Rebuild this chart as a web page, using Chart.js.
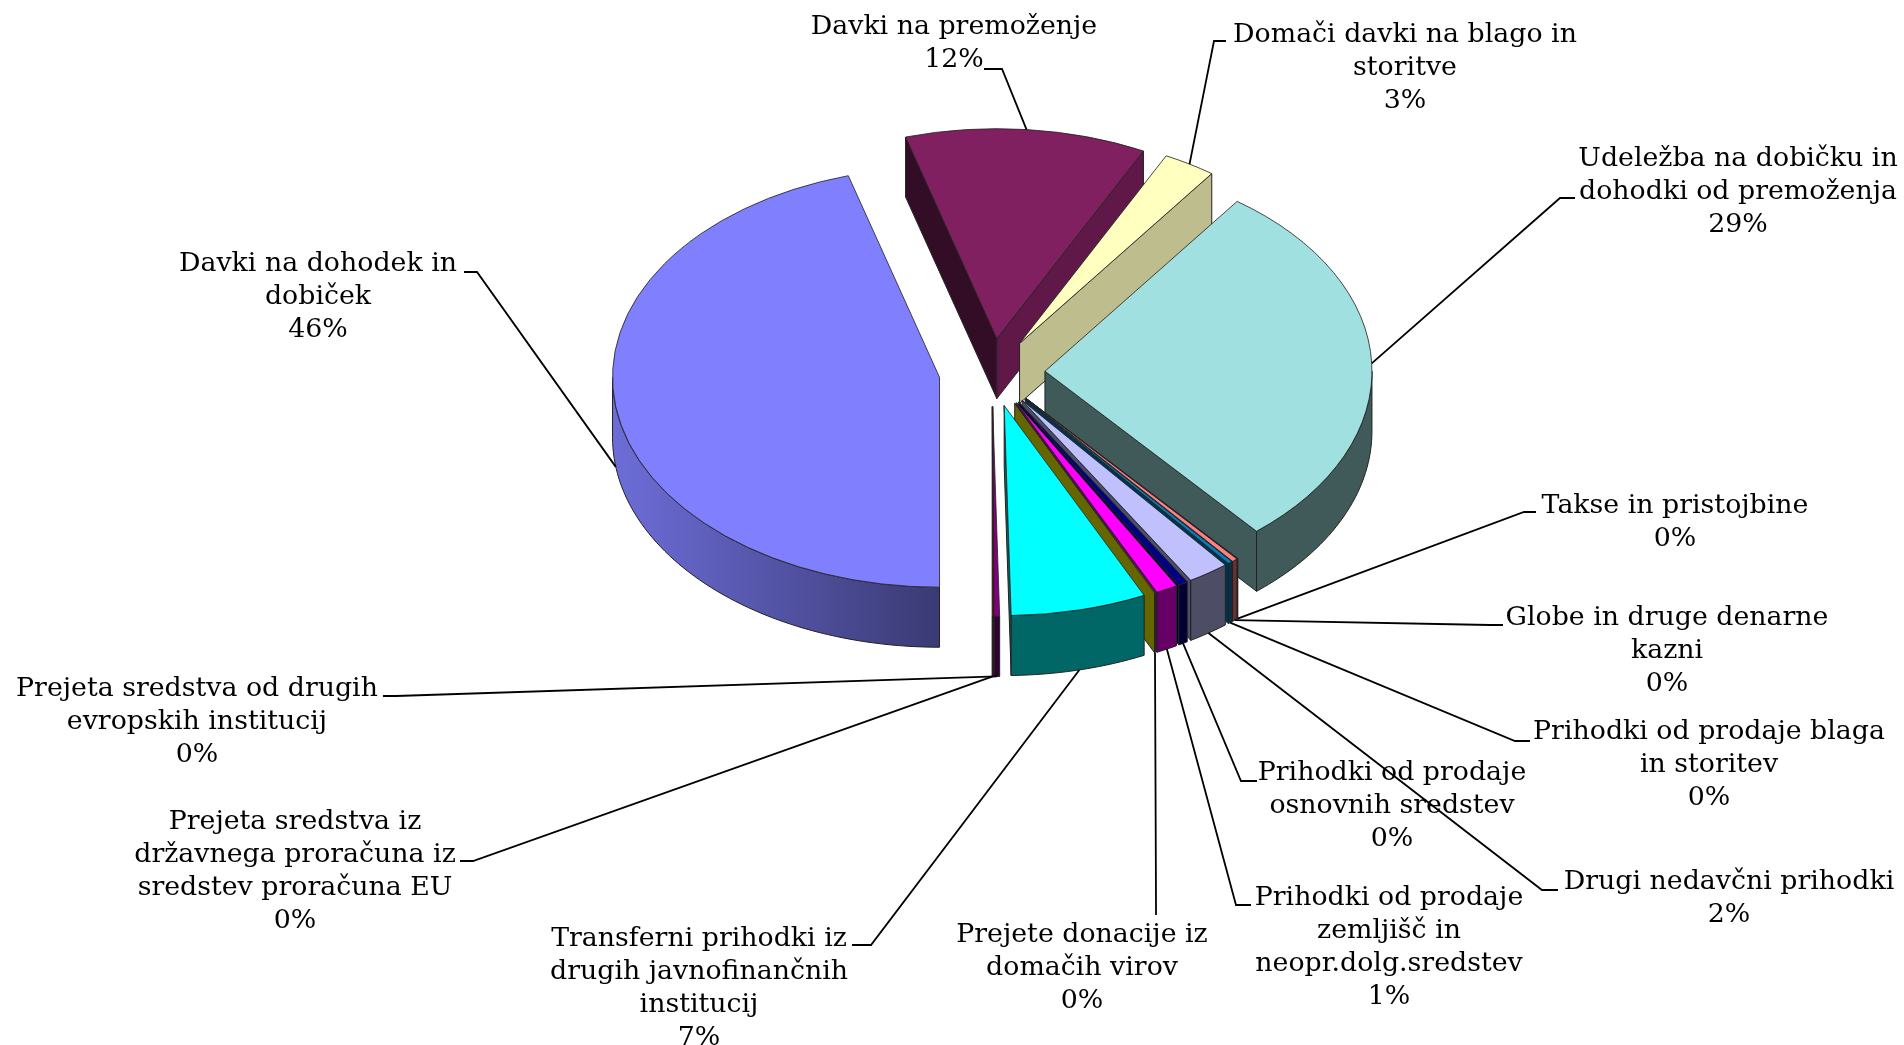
<!DOCTYPE html>
<html><head><meta charset="utf-8">
<style>html,body{margin:0;padding:0;background:#fff}canvas{display:block}</style>
<script src="https://cdn.jsdelivr.net/npm/chart.js@4/dist/chart.umd.min.js"></script>
</head><body><div style="width:1904px;height:1045px"><canvas id="c" width="1904" height="1045"></canvas></div>
<script>
const categories = [
  ['Davki na dohodek in','dobiček'],
  ['Davki na premoženje'],
  ['Domači davki na blago in','storitve'],
  ['Udeležba na dobičku in','dohodki od premoženja'],
  ['Takse in pristojbine'],
  ['Globe in druge denarne','kazni'],
  ['Prihodki od prodaje blaga','in storitev'],
  ['Drugi nedavčni prihodki'],
  ['Prihodki od prodaje','osnovnih sredstev'],
  ['Prihodki od prodaje','zemljišč in','neopr.dolg.sredstev'],
  ['Prejete donacije iz','domačih virov'],
  ['Transferni prihodki iz','drugih javnofinančnih','institucij'],
  ['Prejeta sredstva od drugih','evropskih institucij'],
  ['Prejeta sredstva iz','državnega proračuna iz','sredstev proračuna EU']
];
const shares = [45.5,11.9,2.6,28.8,0.03,0.28,0.22,2.05,0.47,1.08,0.03,6.7,0.27,0.07];
const sliceColors = ['#8080FF','#802060','#FFFFC0','#A0E0E0','#600080','#FF8080','#0080C0','#C0C0FF','#000080','#FF00FF','#FFFF00','#00FFFF','#800080','#800000'];

// layout of the labels: centre x, first-line y (middle), leader start, leader elbow
const labelLayout = [
  {x:318,y:264,s:[464,272],e:[477,272]},
  {x:954,y:27,s:[984,69],e:[1002,69]},
  {x:1405,y:35,s:[1226,41],e:[1214,41]},
  {x:1738,y:159,s:[1575,198],e:[1560,198]},
  {x:1675,y:506,s:[1536,512],e:[1524,512]},
  {x:1667,y:618,s:[1503,625],e:[1490,625]},
  {x:1709,y:732,s:[1530,741],e:[1515,741]},
  {x:1729,y:882,s:[1558,890],e:[1542,890]},
  {x:1392,y:773,s:[1257,781],e:[1241,781]},
  {x:1389,y:898,s:[1251,905],e:[1236,905]},
  {x:1082,y:935,s:[1156,915],e:[1156,905]},
  {x:699,y:939,s:[852,945],e:[871,945]},
  {x:197,y:689,s:[383,696],e:[396,696]},
  {x:295,y:822,s:[460,861],e:[473,861]}
];
const CX=992, CY=372.5, R=327, EXPLODE=53, TILT=0.642, DEPTH=60, LINE=33;
const FONT='26.8px "DejaVu Serif"';
const drawOrder=[1,2,0,3,4,5,6,7,8,9,10,11,12,13];

function rgba(hex,f){
  const n=parseInt(hex.slice(1),16);
  return `rgb(${Math.round((n>>16&255)*f)},${Math.round((n>>8&255)*f)},${Math.round((n&255)*f)})`;
}
function geom(arc){
  const {startAngle:a0,endAngle:a1,x,y,outerRadius:r}=arc.getProps(['startAngle','endAngle','x','y','outerRadius']);
  const mid=(a0+a1)/2, ax=x+Math.cos(mid)*EXPLODE, ay=y+Math.sin(mid)*EXPLODE*TILT;
  return {a0,a1,mid,ax,ay,r,pt:t=>[ax+Math.cos(t)*r,ay+Math.sin(t)*r*TILT]};
}
function radialWall(ctx,g,t,color){
  const p=g.pt(t);
  ctx.beginPath();ctx.moveTo(g.ax,g.ay);ctx.lineTo(p[0],p[1]);ctx.lineTo(p[0],p[1]+DEPTH);ctx.lineTo(g.ax,g.ay+DEPTH);ctx.closePath();
  ctx.fillStyle=color;ctx.fill();ctx.strokeStyle='#222';ctx.lineWidth=1;ctx.stroke();
}
function outerWall(ctx,g,base){
  let lo=null,hi=null;
  for(const k of [0,2]){ const from=k*Math.PI, to=from+Math.PI;
    const a=Math.max(g.a0,from), b=Math.min(g.a1,to);
    if(b>a){lo=a;hi=b;} }
  if(lo===null) return;
  const steps=Math.max(2,Math.ceil((hi-lo)*40));
  ctx.beginPath();
  for(let i=0;i<=steps;i++){const p=g.pt(lo+(hi-lo)*i/steps); i?ctx.lineTo(p[0],p[1]):ctx.moveTo(p[0],p[1]);}
  for(let i=steps;i>=0;i--){const p=g.pt(lo+(hi-lo)*i/steps); ctx.lineTo(p[0],p[1]+DEPTH);}
  ctx.closePath();
  const l=g.pt(hi), rr=g.pt(lo);
  if(l[0]<g.ax-40){
    const gr=ctx.createLinearGradient(l[0],0,rr[0],0);
    gr.addColorStop(0,rgba(base,0.85));gr.addColorStop(1,rgba(base,0.45));
    ctx.fillStyle=gr;
  } else ctx.fillStyle=rgba(base,0.4);
  ctx.fill();ctx.strokeStyle='#222';ctx.lineWidth=1;ctx.stroke();
}
const pie3d={id:'pie3d',
  beforeDatasetDraw(chart){
    const ctx=chart.ctx, arcs=chart.getDatasetMeta(0).data;
    for(const i of drawOrder){
      const arc=arcs[i], g=geom(arc), base=sliceColors[i];
      if(-Math.cos(g.a0)>0) radialWall(ctx,g,g.a0,rgba(base,0.4));
      if(Math.cos(g.a1)>0) radialWall(ctx,g,g.a1,rgba(base,Math.cos(g.a1+Math.PI/2)>0?0.74:0.4));
      outerWall(ctx,g,base);
      ctx.save();
      ctx.translate(0,CY);ctx.scale(1,TILT);ctx.translate(0,-CY);
      ctx.translate(Math.cos(g.mid)*EXPLODE,Math.sin(g.mid)*EXPLODE);
      arc.draw(ctx);
      ctx.restore();
    }
    return false;
  },
  afterDraw(chart){
    const ctx=chart.ctx, arcs=chart.getDatasetMeta(0).data;
    const total=shares.reduce((a,b)=>a+b,0);
    ctx.save();
    ctx.font=FONT;ctx.fillStyle='#000';ctx.textAlign='center';ctx.textBaseline='middle';
    categories.forEach((lines,i)=>{
      const L=labelLayout[i], g=geom(arcs[i]), p=g.pt(g.mid);
      const anchor=[p[0],p[1]+(Math.sin(g.mid)>0?DEPTH:0)];
      ctx.beginPath();ctx.moveTo(L.s[0],L.s[1]);ctx.lineTo(L.e[0],L.e[1]);ctx.lineTo(anchor[0],anchor[1]);
      ctx.strokeStyle='#000';ctx.lineWidth=1.8;ctx.stroke();
      lines.concat([Math.round(shares[i]/total*100+1e-9)+'%']).forEach((t,k)=>ctx.fillText(t,L.x,L.y+k*LINE));
    });
    ctx.restore();
  }
};
new Chart(document.getElementById('c'),{
  type:'pie',
  data:{labels:categories.map(c=>c.join(' ')),datasets:[{data:shares,backgroundColor:sliceColors,borderColor:'#222',borderWidth:1}]},
  options:{responsive:false,animation:false,rotation:180,radius:R,
    layout:{padding:{left:2*CX-1904,bottom:1045-2*CY}},
    plugins:{legend:{display:false},tooltip:{enabled:false}}},
  plugins:[pie3d]
});
</script></body></html>
